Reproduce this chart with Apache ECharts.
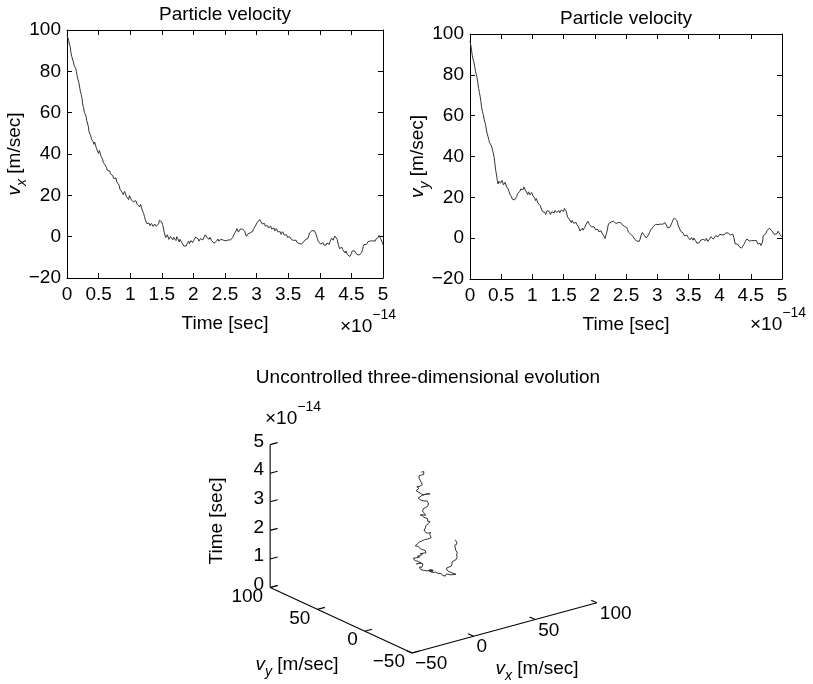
<!DOCTYPE html>
<html>
<head>
<meta charset="utf-8">
<title>Particle velocity</title>
<script src="https://cdn.jsdelivr.net/npm/echarts@6/dist/echarts.min.js"></script>
<style>
  html, body { margin: 0; padding: 0; background: #fff; }
  #chart { width: 813px; height: 684px; }
</style>
</head>
<body>
<div id="chart"></div>
<script>
// Sample spacing of the velocity records, in units of 1e-14 s
const DT = 0.0125;

// x-velocity [m/sec], one value per sample
const vx = [
  97.5, 96.4, 95.0, 93.2, 92.1, 89.1, 87.2, 86.3, 84.6, 82.9, 82.3, 81.4, 79.8, 77.4, 75.9, 74.5, 72.4, 70.1, 68.8, 66.9,
  63.7, 62.5, 60.1, 59.6, 58.4, 56.1, 55.2, 53.4, 50.6, 50.1, 48.9, 47.2, 46.3, 46.0, 44.7, 45.8, 44.9, 43.1, 42.0, 41.6,
  40.3, 41.7, 40.9, 39.0, 38.1, 37.5, 35.9, 35.0, 34.8, 34.9, 33.6, 32.0, 31.2, 32.6, 31.8, 30.4, 29.9, 30.7, 29.5, 28.1,
  27.6, 28.9, 28.4, 26.5, 25.7, 25.9, 24.9, 23.0, 22.1, 22.3, 21.4, 20.4, 20.2, 21.9, 21.6, 19.6, 18.8, 18.7, 17.9, 19.9,
  19.5, 18.0, 18.6, 17.8, 16.9, 16.0, 16.1, 17.4, 16.8, 15.6, 15.2, 15.1, 14.4, 15.6, 14.9, 13.1, 12.3, 11.2, 9.8, 8.3,
  7.6, 6.4, 6.2, 6.9, 6.5, 5.3, 5.6, 6.4, 6.0, 5.0, 5.3, 6.1, 5.7, 5.0, 5.1, 5.4, 6.3, 7.9, 8.8, 8.4,
  7.1, 5.9, 4.2, 2.2, 1.4, -0.4, -1.2, 0.9, 0.3, -1.3, -0.8, 0.1, 0.6, -0.6, -1.5, -0.3, -0.2, -1.2, -1.9, 0.0,
  -0.9, -1.5, -2.6, -1.3, -1.8, -2.6, -3.1, -3.4, -4.6, -3.9, -4.9, -4.5, -3.4, -2.5, -2.1, -3.4, -2.9, -1.9, -1.6, -2.9,
  -2.7, -1.4, -0.9, -0.2, 0.4, -0.2, -1.1, -2.2, -1.9, -0.9, -0.6, -1.8, -1.6, -0.5, -0.2, 0.9, 0.8, -0.4, -0.7, -0.6,
  -1.3, -0.3, -0.4, -1.8, -2.6, -2.5, -3.2, -2.3, -2.4, -2.3, -1.5, -1.1, -2.1, -1.9, -1.2, -1.3, -0.6, -0.8, -1.7, -0.9,
  -1.1, -2.0, -2.3, -1.5, -1.6, -2.5, -2.4, -1.6, -2.0, -0.8, -0.3, 0.8, 1.2, 1.6, 2.8, 3.9, 3.4, 2.2, 2.6, 3.6,
  4.1, 3.4, 3.7, 4.6, 4.4, 2.6, 1.3, 0.2, 0.2, 1.3, 1.1, 0.9, 1.9, 2.6, 2.8, 2.5, 3.6, 4.3, 4.5, 5.6,
  6.1, 7.0, 7.4, 7.5, 8.3, 7.8, 7.6, 6.2, 5.9, 6.9, 6.4, 5.1, 4.8, 5.9, 5.3, 4.3, 4.1, 5.2, 5.0, 3.7,
  3.3, 4.5, 4.2, 2.8, 2.6, 3.9, 3.8, 2.3, 1.9, 2.8, 2.4, 1.1, 1.2, 2.4, 2.0, 0.8, 0.3, 1.2, 0.9, -0.3,
  -0.6, 0.3, -0.1, -0.5, -1.4, -0.6, -0.8, -1.8, -2.1, -1.2, -1.7, -2.7, -2.6, -2.7, -3.4, -4.1, -4.2, -3.5, -3.6, -3.4,
  -2.4, -1.5, -1.3, -2.0, -1.9, -0.9, 0.4, 1.8, 2.1, 2.2, 2.9, 2.3, 2.2, 2.9, 3.0, 1.4, 0.6, -1.0, -2.2, -2.3,
  -2.8, -3.6, -3.5, -2.7, -2.9, -4.0, -4.6, -4.8, -4.1, -3.1, -3.2, -3.9, -3.7, -2.3, -1.6, -0.7, -0.8, -1.7, -1.4, 0.3,
  0.9, 0.2, -1.2, -3.1, -4.4, -5.8, -6.2, -5.0, -5.1, -6.3, -6.8, -7.0, -7.9, -6.9, -7.2, -8.7, -8.4, -8.5, -9.6, -9.2,
  -8.1, -6.9, -6.2, -7.4, -6.9, -7.1, -7.7, -8.6, -8.5, -8.1, -8.9, -9.3, -8.6, -7.7, -6.4, -4.8, -3.8, -3.6, -2.9, -3.8,
  -3.6, -2.4, -2.5, -2.9, -2.1, -2.2, -2.9, -2.0, -1.6, -2.6, -2.2, -1.2, -1.1, -0.3, -0.4, 0.6, 0.3, -0.9, -1.8, -2.7,
  -3.9
];

// y-velocity [m/sec], one value per sample
const vy = [
  96.5, 94.6, 92.0, 89.3, 87.6, 86.2, 84.1, 81.8, 80.3, 78.7, 76.2, 73.4, 71.4, 69.5, 66.8, 63.9, 61.9, 60.6, 58.3, 57.4,
  55.6, 53.0, 51.2, 49.9, 48.4, 46.8, 46.1, 45.6, 44.6, 43.0, 42.3, 39.6, 36.2, 33.1, 31.0, 28.3, 26.5, 27.9, 28.2, 26.9,
  27.1, 28.3, 27.6, 26.1, 26.2, 27.4, 26.8, 25.1, 24.4, 24.1, 22.9, 21.6, 21.3, 20.5, 19.2, 19.9, 18.4, 18.7, 19.6, 19.4,
  20.5, 21.9, 21.8, 22.2, 22.9, 24.1, 24.6, 23.5, 23.7, 25.1, 24.8, 23.6, 23.1, 22.8, 21.4, 22.7, 22.6, 21.2, 21.1, 22.4,
  22.3, 20.6, 19.8, 19.6, 18.4, 19.4, 18.9, 17.3, 16.9, 17.1, 16.0, 14.8, 14.2, 13.0, 12.1, 13.2, 12.6, 11.6, 12.0, 13.6,
  14.1, 13.0, 12.9, 11.6, 11.2, 12.9, 13.8, 12.6, 12.4, 13.6, 14.3, 12.6, 11.9, 13.1, 13.5, 12.4, 12.0, 13.8, 14.4, 13.3,
  13.1, 14.6, 14.0, 13.4, 12.2, 10.4, 9.5, 9.8, 8.9, 8.0, 7.6, 8.7, 8.4, 7.3, 7.1, 8.2, 7.7, 6.6, 5.9, 5.6,
  4.6, 3.5, 3.2, 4.4, 4.9, 3.9, 4.1, 5.2, 5.8, 6.9, 7.4, 8.3, 7.9, 6.8, 6.2, 6.4, 5.5, 4.6, 4.7, 5.6,
  5.2, 4.1, 3.8, 4.6, 4.3, 3.2, 3.1, 3.9, 3.6, 2.6, 2.2, 1.8, 0.8, -0.2, 0.1, 2.4, 3.9, 6.1, 7.2, 6.5,
  6.9, 7.9, 7.8, 7.6, 8.3, 8.4, 7.5, 7.2, 8.1, 7.3, 7.6, 7.8, 7.0, 7.7, 7.4, 6.6, 6.3, 6.6, 5.8, 5.0,
  5.1, 5.2, 4.2, 3.0, 2.6, 2.8, 1.9, 1.1, 1.1, 0.9, 0.3, -0.5, -0.6, -0.4, -1.4, -1.3, -1.7, -1.6, -0.5, 1.0,
  1.6, 2.8, 2.6, 1.6, 1.2, 0.9, 0.1, 0.3, 0.9, 1.6, 2.7, 3.6, 4.1, 4.0, 4.6, 5.6, 5.9, 6.1, 6.8, 6.9,
  6.2, 6.6, 7.3, 7.5, 6.9, 7.1, 7.5, 6.8, 7.1, 7.7, 7.6, 7.1, 6.4, 5.1, 4.3, 4.4, 5.2, 5.4, 6.1, 7.6,
  8.8, 9.2, 9.9, 10.2, 9.4, 8.8, 7.6, 6.0, 5.1, 4.5, 3.4, 3.4, 2.6, 2.6, 1.8, 1.1, 0.9, 1.6, 1.5, 0.6,
  0.2, 0.0, -0.8, -0.5, 0.3, 0.0, -1.0, 0.1, -0.4, -1.1, -1.9, -2.5, -3.1, -2.9, -2.2, -1.3, -0.9, -1.4, -1.6, -0.6,
  -0.3, -0.5, -1.2, -0.1, -0.7, -1.6, -1.4, -0.5, -0.2, 0.7, 0.6, 0.4, -0.5, -0.3, 0.4, 1.2, 1.3, 1.4, 0.7, 1.6,
  1.9, 1.9, 1.2, 1.6, 2.4, 2.4, 1.6, 2.3, 2.6, 2.5, 1.8, 2.5, 2.3, 1.8, 1.5, 2.4, 2.1, 2.0, 1.4, -0.9,
  -2.8, -3.5, -3.6, -2.9, -3.2, -4.1, -4.4, -4.1, -4.9, -4.6, -3.8, -3.6, -2.6, -1.6, -1.1, -0.4, -0.6, -1.3, -1.4, -0.6,
  -0.7, -1.2, -1.8, -1.0, -1.2, -2.0, -2.1, -1.1, -1.5, -2.8, -3.4, -2.6, -2.6, -3.6, -4.1, -1.9, 1.2, 0.8, 1.8, 2.0,
  2.9, 3.8, 3.6, 4.4, 4.9, 5.1, 4.4, 3.6, 3.2, 2.8, 1.9, 1.3, 1.0, 2.0, 2.4, 3.4, 3.1, 2.0, 1.4, 1.7,
  0.6
];

// Tick values
const timeTicks = [0, 0.5, 1, 1.5, 2, 2.5, 3, 3.5, 4, 4.5, 5];
const velTicks = [-20, 0, 20, 40, 60, 80, 100];
const vel3dTicks = [-50, 0, 50, 100];
const time3dTicks = [0, 1, 2, 3, 4, 5];

// Sample times (1e-14 s)
const time = vx.map((_, i) => +(i * DT).toFixed(4));

const FONT = '"Liberation Sans", Arial, Helvetica, sans-serif';
const INK = '#000';
const TRACE = '#333';
const fmt = v => String(v).replace('-', '\u2212');

// ---- 3-D view (azimuth -37.5 deg, elevation 30 deg) projected to the page ----
const AZ = -37.5 * Math.PI / 180;
const EL = 30 * Math.PI / 180;
const KX = 233, KY = 165;            // pixel size of the unit plot box
const VX_LIM = [vel3dTicks[0], vel3dTicks[vel3dTicks.length - 1]];
const VY_LIM = [vel3dTicks[0], vel3dTicks[vel3dTicks.length - 1]];
const T_LIM = [time3dTicks[0], time3dTicks[time3dTicks.length - 1]];

function project(a, b, c) {
  const xn = (a - VX_LIM[0]) / (VX_LIM[1] - VX_LIM[0]);
  const yn = (b - VY_LIM[0]) / (VY_LIM[1] - VY_LIM[0]);
  const zn = (c - T_LIM[0]) / (T_LIM[1] - T_LIM[0]);
  return [
    KX * (Math.cos(AZ) * xn + Math.sin(AZ) * yn),
    KY * (-Math.sin(EL) * Math.sin(AZ) * xn + Math.sin(EL) * Math.cos(AZ) * yn + Math.cos(EL) * zn)
  ];
}

// Axis frame of the 3-D plot: three edges, ticks and tick labels
function drawFrame3d(params, api) {
  const pt = (a, b, c) => api.coord(project(a, b, c));
  const children = [];
  const seg = (p, q) => children.push({
    type: 'line', shape: { x1: p[0], y1: p[1], x2: q[0], y2: q[1] },
    style: { stroke: INK, lineWidth: 1.1 }
  });
  const label = (p, text, align, dx, dy) => children.push({
    type: 'text', x: p[0] + dx, y: p[1] + dy,
    style: { text, fill: INK, fontSize: 19, fontFamily: FONT, align, verticalAlign: 'middle' }
  });
  const [x0, x1] = VX_LIM, [y0, y1] = VY_LIM, [t0, t1] = T_LIM;
  const tx = 0.04 * (x1 - x0), ty = 0.04 * (y1 - y0);

  seg(pt(x0, y1, t0), pt(x0, y1, t1));   // time edge
  seg(pt(x0, y1, t0), pt(x0, y0, t0));   // vy edge
  seg(pt(x0, y0, t0), pt(x1, y0, t0));   // vx edge

  vel3dTicks.forEach(v => {
    const p = pt(x0, v, t0);
    seg(p, pt(x0 + tx, v, t0));
    label(p, fmt(v), 'right', -7, 9);
  });
  vel3dTicks.forEach(v => {
    const p = pt(v, y0, t0);
    seg(p, pt(v, y0 + ty, t0));
    label(p, fmt(v), 'left', 3, 11);
  });
  time3dTicks.forEach(v => {
    const p = pt(x0, y1, v);
    seg(p, pt(x0 + tx, y1, v));
    label(p, fmt(v), 'right', -6, -3);
  });
  return { type: 'group', children };
}

// ---- 2-D panel axes (boxed, ticks inside) ----
const lineStyle = { color: INK, width: 1 };
const tickLabel = { color: INK, fontSize: 19, fontFamily: FONT, formatter: fmt, showMinLabel: true, showMaxLabel: true };

function timeAxes(gi) {
  const base = {
    gridIndex: gi, type: 'value',
    min: timeTicks[0], max: timeTicks[timeTicks.length - 1], interval: timeTicks[1] - timeTicks[0],
    splitLine: { show: false },
    axisLine: { show: true, onZero: false, lineStyle },
    axisTick: { show: true, inside: true, length: 5, lineStyle }
  };
  return [
    Object.assign({}, base, {
      position: 'bottom',
      axisLabel: Object.assign({ margin: 7 }, tickLabel),
      name: 'Time [sec]', nameLocation: 'middle', nameGap: 36, nameMoveOverlap: false,
      nameTextStyle: { color: INK, fontSize: 19, fontFamily: FONT }
    }),
    Object.assign({}, base, { position: 'top', axisLabel: { show: false } })
  ];
}

function velAxes(gi, sub, gap) {
  const base = {
    gridIndex: gi, type: 'value',
    min: velTicks[0], max: velTicks[velTicks.length - 1], interval: velTicks[1] - velTicks[0],
    splitLine: { show: false },
    axisLine: { show: true, onZero: false, lineStyle },
    axisTick: { show: true, inside: true, length: 5, lineStyle }
  };
  return [
    Object.assign({}, base, {
      position: 'left',
      axisLabel: Object.assign({ margin: 6 }, tickLabel),
      name: '{v|v}{s|' + sub + '}{u| [m/sec]}', nameLocation: 'middle', nameGap: gap, nameMoveOverlap: false,
      nameTextStyle: {
        color: INK, fontSize: 19, fontFamily: FONT,
        rich: {
          v: { color: INK, fontFamily: FONT, fontSize: 19, fontStyle: 'italic', lineHeight: 24, verticalAlign: 'top' },
          s: { color: INK, fontFamily: FONT, fontSize: 14, fontStyle: 'italic', lineHeight: 14, verticalAlign: 'bottom' },
          u: { color: INK, fontFamily: FONT, fontSize: 19, lineHeight: 24, verticalAlign: 'top' }
        }
      }
    }),
    Object.assign({}, base, { position: 'right', axisLabel: { show: false } })
  ];
}

// Rich-text styles for subscripts and the power-of-ten multiplier
const subRich = {
  v: { fill: INK, fontFamily: FONT, fontSize: 19, fontStyle: 'italic', lineHeight: 24, verticalAlign: 'top' },
  s: { fill: INK, fontFamily: FONT, fontSize: 14, fontStyle: 'italic', lineHeight: 14, verticalAlign: 'bottom' },
  u: { fill: INK, fontFamily: FONT, fontSize: 19, lineHeight: 24, verticalAlign: 'top' }
};
const expRich = {
  b: { fill: INK, fontFamily: FONT, fontSize: 19, lineHeight: 28, verticalAlign: 'bottom' },
  p: { fill: INK, fontFamily: FONT, fontSize: 14, lineHeight: 14, verticalAlign: 'top' }
};
const exponent = '{b|\u00d710}{p|\u221214}';

function text(x, y, str, extra) {
  return Object.assign({
    type: 'text', x, y, silent: true,
    style: { text: str, fill: INK, fontSize: 19, fontFamily: FONT, align: 'center', verticalAlign: 'middle' }
  }, extra || {});
}
function multiplier(left, top) {
  return { type: 'text', left, top, silent: true,
    style: { text: exponent, rich: expRich, fill: INK, fontFamily: FONT, fontSize: 19 } };
}

const xa = [...timeAxes(0), ...timeAxes(1)];
const ya = [...velAxes(0, 'x', 38), ...velAxes(1, 'y', 38)];

// hidden page-scaled axes carrying the projected 3-D drawing
xa.push({ gridIndex: 2, type: 'value', min: -160, max: 200, show: false });
ya.push({ gridIndex: 2, type: 'value', min: -20, max: 280, show: false });

const vyName = text(297, 667, '{v|v}{s|y}{u| [m/sec]}');
const vxName = text(537, 671, '{v|v}{s|x}{u| [m/sec]}');
vyName.style.rich = subRich;
vxName.style.rich = subRich;

const option = {
  backgroundColor: '#fff',
  animation: false,
  grid: [
    { left: 67, top: 30, width: 316, height: 248, containLabel: false, outerBoundsMode: 'none' },
    { left: 470, top: 34, width: 312, height: 245, containLabel: false, outerBoundsMode: 'none' },
    { left: 252, top: 373, width: 360, height: 300, containLabel: false, outerBoundsMode: 'none' }
  ],
  xAxis: xa,
  yAxis: ya,
  graphic: [
    text(225, 15, 'Particle velocity'),
    text(626, 19, 'Particle velocity'),
    text(428, 378, 'Uncontrolled three-dimensional evolution'),
    multiplier(340, 308),
    multiplier(750, 306),
    multiplier(265, 400),
    text(217, 521, 'Time [sec]', { rotation: Math.PI / 2 }),
    vyName,
    vxName
  ],
  series: [
    {
      type: 'line', xAxisIndex: 0, yAxisIndex: 0, silent: true,
      data: time.map((t, i) => [t, vx[i]]),
      symbol: 'none', lineStyle: { color: TRACE, width: 1 }
    },
    {
      type: 'line', xAxisIndex: 2, yAxisIndex: 2, silent: true,
      data: time.map((t, i) => [t, vy[i]]),
      symbol: 'none', lineStyle: { color: TRACE, width: 1 }
    },
    {
      type: 'line', xAxisIndex: 4, yAxisIndex: 4, silent: true, clip: false,
      data: time.map((t, i) => project(vx[i], vy[i], t)),
      symbol: 'none', lineStyle: { color: TRACE, width: 1 }
    },
    {
      type: 'custom', xAxisIndex: 4, yAxisIndex: 4, silent: true, clip: false,
      data: [[0, 0]],
      renderItem: drawFrame3d
    }
  ]
};

const chart = echarts.init(document.getElementById('chart'), null, { renderer: 'canvas' });
chart.setOption(option);
</script>
</body>
</html>
